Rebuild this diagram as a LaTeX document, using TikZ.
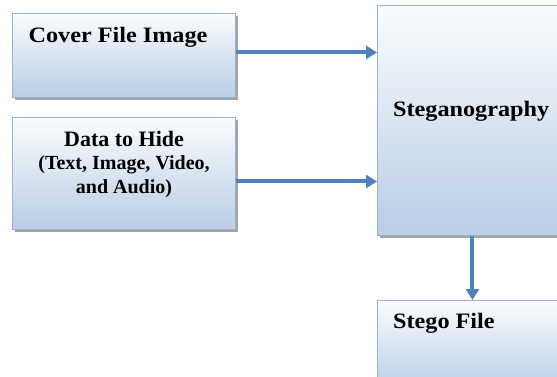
\documentclass[tikz,border=0pt]{standalone}
\usepackage{fontspec}
\setmainfont{Liberation Serif}
\newfontfamily\widefont[FakeStretch=1.1]{Liberation Serif}
\usetikzlibrary{arrows.meta,shadows}
\definecolor{boxedge}{HTML}{95B3D7}
\definecolor{boxlow}{HTML}{B9CDE5}
\definecolor{boxtop}{HTML}{FAFCFE}
\definecolor{flow}{HTML}{4F81BD}
\tikzset{
  block/.style={draw=boxedge, line width=0.9pt, top color=boxtop, bottom color=boxlow,
    drop shadow={shadow xshift=2.5pt, shadow yshift=-2.5pt, fill=black!45, opacity=0.8},
    anchor=north west, inner sep=0pt},
  label/.style={font=\widefont\bfseries\fontsize{22}{23}\selectfont, inner sep=0pt},
  sublabel/.style={font=\bfseries\fontsize{20}{23.5}\selectfont, inner sep=0pt, align=center},
  flowarrow/.style={draw=flow, line width=4pt, -{Triangle[width=13pt,length=11pt]}}
}
\begin{document}
\begin{tikzpicture}[x=1pt,y=-1pt]
\useasboundingbox (0,0) rectangle (557,376);
% input blocks
\node[block, minimum width=223pt, minimum height=84pt] (cover) at (12,13) {};
\node[block, minimum width=223pt, minimum height=112pt] (data) at (12,117) {};
% process and output blocks (run past the right edge)
\node[block, minimum width=190pt, minimum height=230pt] (steg) at (377,5) {};
\node[block, minimum width=190pt, minimum height=90pt] (file) at (377,300) {};
% texts
\node[label] (cover-txt) at (118,37) {Cover File Image};
\node[sublabel] (data-txt) at (124,164) {\fontsize{22}{23}\selectfont Data to Hide\\(Text, Image, Video,\\and Audio)};
\node[label, anchor=west] (steg-txt) at (393,111) {Steganography};
\node[label, anchor=west] (file-txt) at (393,323) {Stego File};
% connectors
\draw[flowarrow] ([yshift=3pt]cover.east) -- ([yshift=3pt]cover.east -| steg.west);
\draw[flowarrow] ([yshift=-8pt]data.east) -- ([yshift=-8pt]data.east -| steg.west);
\draw[flowarrow] (steg.south) -- (file.north);
\end{tikzpicture}
\end{document}
